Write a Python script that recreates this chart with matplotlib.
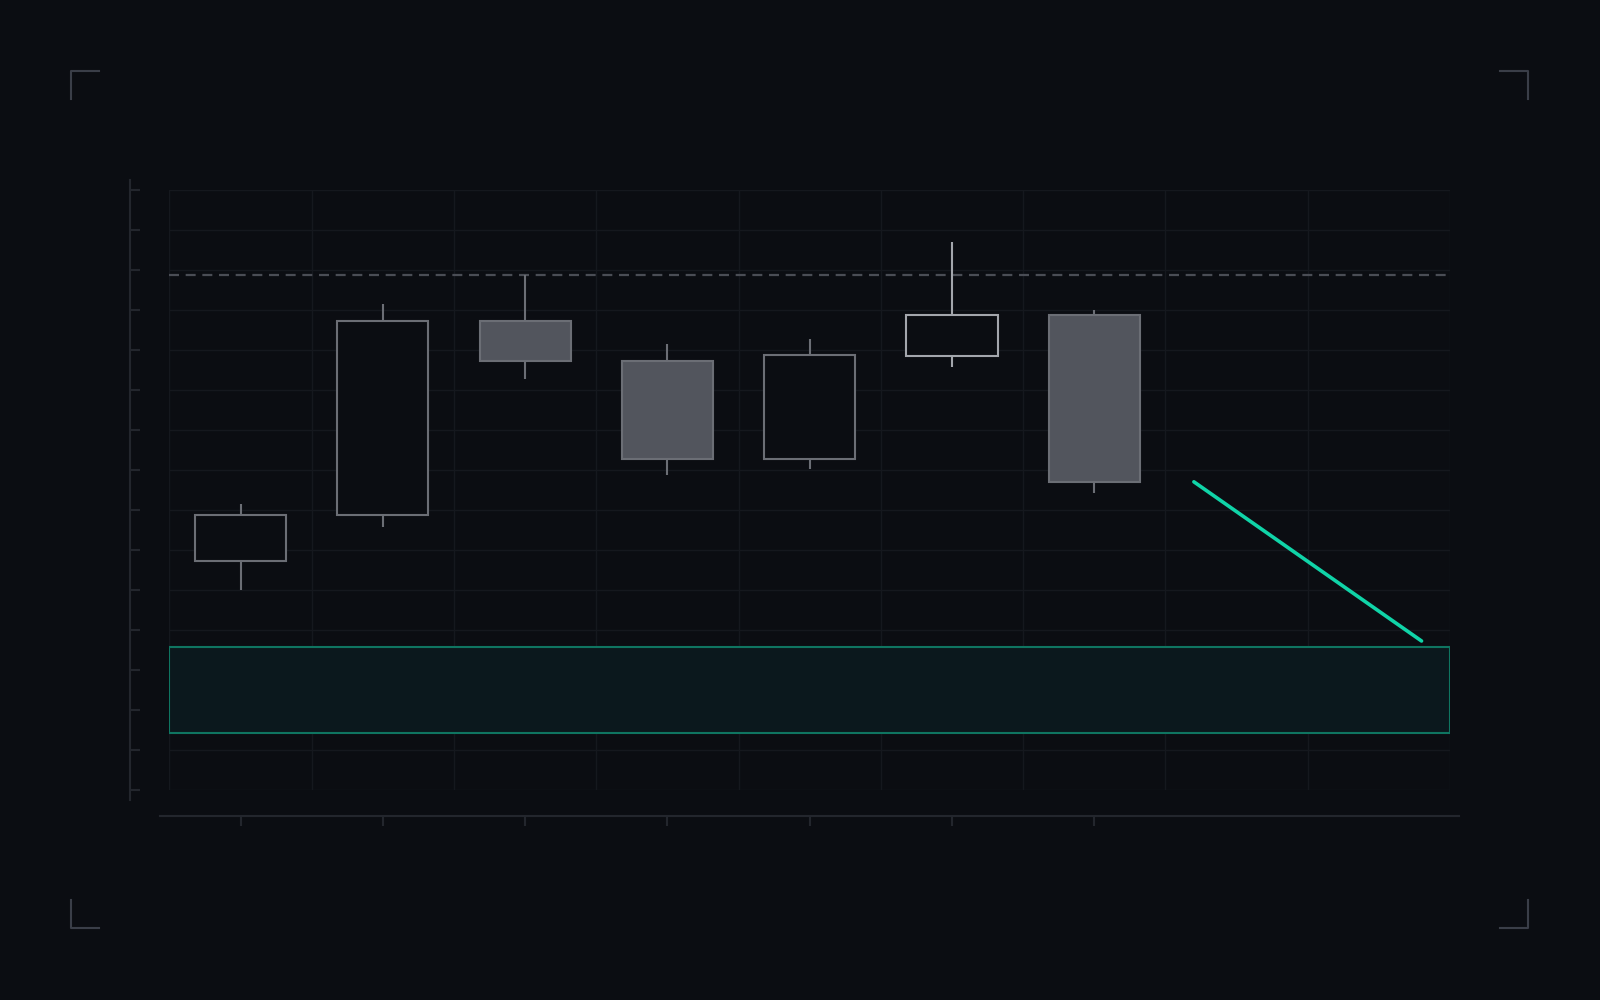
import matplotlib
matplotlib.use("Agg")
import matplotlib.pyplot as plt
from matplotlib.lines import Line2D
from matplotlib.patches import Rectangle

# data
opens  = [5.71, 6.86, 11.71, 10.71, 8.27, 10.84, 11.86]
closes = [6.86, 11.71, 10.71, 8.27, 10.87, 11.86, 7.70]
highs  = [7.14, 12.14, 12.86, 11.15, 11.28, 13.70, 11.99]
lows   = [5.00, 6.58, 10.28, 7.86, 8.01, 10.56, 7.42]
highlight = [False, False, False, False, False, True, False]
ref_level = 12.86
proj_x = [6.70, 8.30]
proj_y = [7.70, 3.72]
zone = [1.43, 3.57]

BG = "#0b0d12"
GRID = "#15181e"
AXIS = "#23262d"
EDGE = "#6b6e75"
EDGE_HI = "#a3a6ac"
FILL = "#52555d"
TEAL = "#10d4a8"
ZONE_EDGE = "#0f7561"
ZONE_FILL = "#0b181d"

fig = plt.figure(figsize=(16, 10), dpi=100, facecolor=BG)
AX_L, AX_R, AX_T, AX_B = 169.4, 1450.0, 189.8, 789.8
ax = fig.add_axes([AX_L/1600, 1 - AX_B/1000, (AX_R - AX_L)/1600, (AX_B - AX_T)/1000],
                  facecolor=BG)
ax.set_xlim(-0.5, 8.5)
ax.set_ylim(0, 15)
px_y = (AX_B - AX_T) / 15
px_x = (AX_R - AX_L) / 9

# grid
for gx in range(10):
    ax.axvline(gx - 0.5, color=GRID, lw=1.0, zorder=0)
for gy in range(16):
    ax.axhline(gy, color=GRID, lw=1.0, zorder=0)

# zone
ax.add_patch(Rectangle((-0.5, zone[0]), 9, zone[1] - zone[0], facecolor=ZONE_FILL,
                       edgecolor=ZONE_EDGE, lw=1.5, zorder=1))

# reference dashed line
ax.axhline(ref_level, color="#4a4d55", lw=1.6, ls=(0, (4.5, 3)), zorder=2)

# candles
w = 0.64
for i, (o, c, h, l, hi) in enumerate(zip(opens, closes, highs, lows, highlight)):
    ec = EDGE_HI if hi else EDGE
    top, bot = max(o, c), min(o, c)
    ax.plot([i, i], [top, h], color=ec, lw=1.5, zorder=3, solid_capstyle="butt")
    ax.plot([i, i], [l, bot], color=ec, lw=1.5, zorder=3, solid_capstyle="butt")
    fc = FILL if c < o else BG
    ax.add_patch(Rectangle((i - w/2, bot), w, top - bot, facecolor=fc, edgecolor=ec,
                           lw=1.5, zorder=4))

# projection line
ax.plot(proj_x, proj_y, color=TEAL, lw=2.6, solid_capstyle="round", zorder=5)

# axes styling
for s in ["top", "right"]:
    ax.spines[s].set_visible(False)
ax.spines["left"].set_position(("outward", (AX_L - 129.6) * 0.72))
ax.spines["bottom"].set_position(("outward", (816.3 - AX_B) * 0.72))
ax.spines["left"].set_color(AXIS)
ax.spines["bottom"].set_color(AXIS)
ax.spines["left"].set_linewidth(1.5)
ax.spines["bottom"].set_linewidth(1.5)
ax.spines["left"].set_bounds(-10.2/px_y, 15 + 10.2/px_y)
ax.spines["bottom"].set_bounds(-0.5 - 9.2/px_x, 8.5 + 9.2/px_x)
ax.set_yticks(range(16))
ax.set_xticks(range(len(opens)))
ax.tick_params(axis="y", direction="in", length=7.35, width=1.5, color=AXIS, labelleft=False)
ax.tick_params(axis="x", direction="out", length=7.35, width=1.5, color=AXIS, labelbottom=False)

# corner brackets
BR = "#3a3e48"
def bracket(x0, y0, dx, dy):
    fig.add_artist(Line2D([x0/1600, x0/1600, (x0+dx)/1600],
                          [1 - (y0+dy)/1000, 1 - y0/1000, 1 - y0/1000],
                          color=BR, lw=1.5, transform=fig.transFigure))
bracket(71.4, 71.4, 27.6, 27.6)
bracket(1527.6, 71.4, -27.6, 27.6)
bracket(71.4, 927.6, 27.6, -27.6)
bracket(1527.6, 927.6, -27.6, -27.6)

fig.savefig("out.png", dpi=100, facecolor=BG)
